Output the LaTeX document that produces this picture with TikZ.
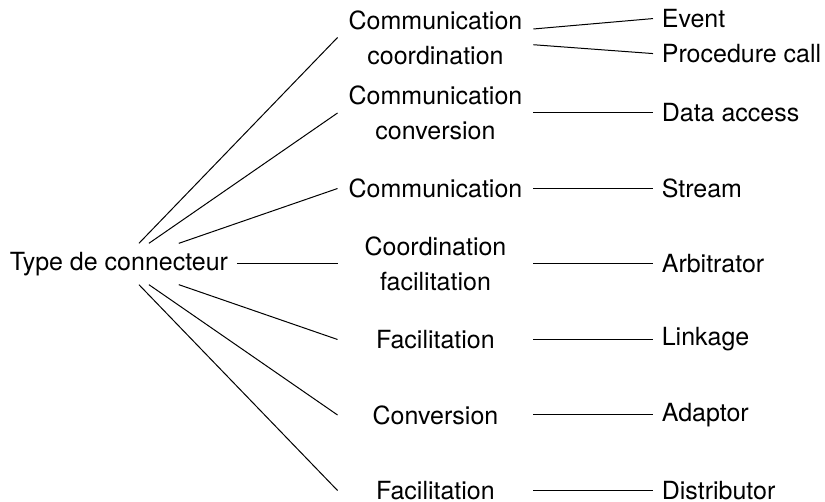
\documentclass[tikz,border=0pt]{standalone}
\usepackage{fontspec}
\setmainfont{TeX Gyre Heros}

\begin{document}
\begin{tikzpicture}[x=1pt,y=1pt]
  \tikzstyle{kind}=[text width=71.3pt,align=center,font=\fontsize{10}{14}\selectfont]
  \tikzstyle{leaf}=[anchor=west]

\useasboundingbox (-47.6,-95.2) rectangle (282.4,105.6);

\node (type) at (0,0) {Type de connecteur};

\foreach \n/\y/\txt in {com/3/{Communication\\coordination},
  comconv/2/{Communication\\conversion}, comm/1/Communication,
  coordfac/0/{Coordination\\facilitation}, fac/-1/Facilitation,
  conv/-2/Conversion, facb/-3/Facilitation} {
  \node [kind] (\n) at (126.6, 30.2*\y) {\txt};
  \draw (type) -- (\n.west);
}

\node [anchor=base west] (event) at (213.6, 94.6) {Event};
\node [anchor=base west] (proc) at (213.6, 80.6) {Procedure call};
\draw (com) -- (event.west);
\draw (com) -- (proc.west);

\foreach \n/\p/\y/\txt in {data/comconv/2/Data access, stream/comm/1/Stream,
  arb/coordfac/0/Arbitrator, link/fac/-1/Linkage, adapt/conv/-2/Adaptor,
  dist/facb/-3/Distributor} {
  \node [leaf] (\n) at (213.6, 30.2*\y) {\txt};
  \draw (\p) -- (\n.west);
}

\end{tikzpicture}
\end{document}
